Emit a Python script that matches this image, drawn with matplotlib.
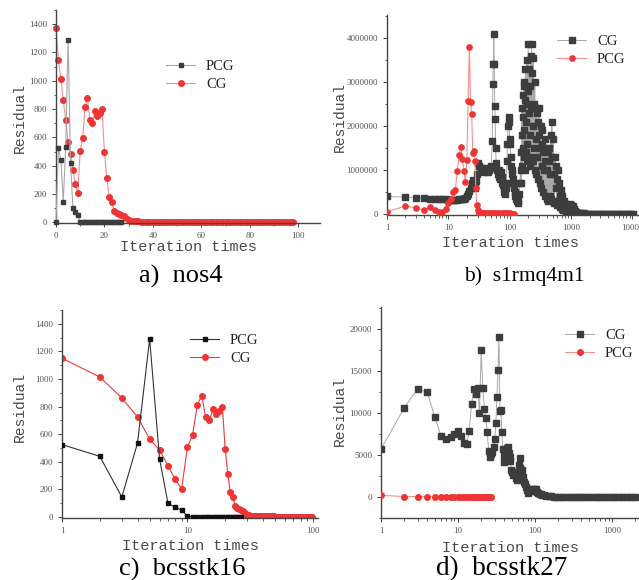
import matplotlib.pyplot as plt
import numpy as np
from matplotlib.ticker import MultipleLocator, LogLocator, NullFormatter

# ---- data ----
# nos4 / bcsstk16 : residual per iteration (index = iteration)
cg_nos4 = [1375, 1150, 1015, 862, 725, 565, 485, 372, 272, 205,
           505, 595, 815, 878, 722, 700, 785, 750, 770, 800,
           495, 310, 180, 142, 82, 68, 60, 52, 45, 30,
           16, 12, 9, 7, 6, 5, 5, 5, 4, 4,
           4, 4, 4, 4, 4, 4, 4, 4, 4, 4,
           3, 3, 3, 3, 3, 3, 3, 3, 3, 3,
           3, 3, 3, 3, 3, 3, 3, 3, 3, 3,
           2, 2, 2, 2, 2, 2, 2, 2, 2, 2,
           2, 2, 2, 2, 2, 2, 2, 2, 2, 2,
           2, 2, 2, 2, 2, 2, 2, 2, 2]
pcg_nos4 = [0, 525, 440, 145, 535, 1290, 420, 100, 70, 50,
            5, 3, 2, 2, 1, 1, 1, 1, 1, 1,
            1, 1, 0, 0, 0, 0, 0, 0]

# s1rmq4m1 (CG: sampled iterations, dense oscillating block between 150 and 1000)
cg_s1_x = [1, 2, 3, 4, 5, 6, 7, 8, 9, 10,
           11, 12, 13, 14, 15, 16, 17, 18, 19, 20,
           21, 22, 23, 24, 25, 26, 27, 28, 29, 30,
           32, 34, 36, 38, 40, 42, 44, 46, 48, 50,
           52, 53, 54, 55, 56, 57, 58, 59, 60, 62,
           64, 66, 68, 70, 72, 74, 76, 78, 80, 82,
           84, 86, 88, 90, 92, 94, 96, 98, 100, 102,
           104, 106, 108, 110, 112, 115, 118, 121, 124, 127,
           130, 134, 138, 142, 146,
           150, 152, 154, 156, 158, 160, 162, 164, 166, 168,
           170, 172, 174, 176, 178, 180, 182, 184, 186, 188,
           190, 192, 194, 196, 198, 200, 203, 206, 209, 212,
           215, 218, 221, 224, 227, 230, 233, 236, 240, 244,
           248, 252, 256, 260, 264, 268, 272, 277, 282, 287,
           292, 297, 302, 307, 312, 318, 324, 330, 336, 342,
           348, 355, 362, 369, 376, 383, 390, 398, 406, 414,
           422, 430, 439, 448, 457, 466, 475, 485, 495, 505,
           515, 526, 537, 548, 560, 572, 584, 596, 609, 622,
           635, 648, 662, 676, 690, 705, 720, 735, 750, 766,
           782, 798, 815, 832, 850, 868, 886, 905, 924, 944,
           964, 985, 1006, 1030, 1060, 1100, 1150, 1200, 1300, 1400,
           1500, 1650, 1800, 1950, 2100, 2300, 2500, 2700, 2950, 3200,
           3500, 3800, 4150, 4500, 4900, 5350, 5800, 6300, 6850, 7450,
           8100, 8800, 9600, 10400]
cg_s1_y = [400000, 380000, 370000, 360000, 350000, 345000, 340000, 335000, 330000, 320000,
           315000, 315000, 320000, 325000, 330000, 335000, 340000, 350000, 370000, 400000,
           450000, 520000, 600000, 700000, 780000, 650000, 600000, 750000, 900000, 1150000,
           1100000, 1050000, 1000000, 950000, 1050000, 1000000, 950000, 1000000, 1050000, 1100000,
           1650000, 2950000, 3400000, 4080000, 3400000, 2450000, 2150000, 1500000, 1150000, 1000000,
           900000, 1000000, 850000, 800000, 950000, 700000, 850000, 650000, 600000, 500000,
           450000, 600000, 700000, 1200000, 1600000, 2000000, 2200000, 2100000, 1700000, 1600000,
           1300000, 1100000, 1000000, 900000, 800000, 700000, 600000, 500000, 400000, 350000,
           300000, 250000, 300000, 450000, 700000,
           1000000, 1400000, 700000, 1800000, 2400000, 1100000, 2700000, 1500000, 2200000, 2900000,
           1300000, 3000000, 1900000, 2600000, 1000000, 3300000, 2100000, 1400000, 2900000, 1200000,
           2500000, 3500000, 1600000, 2800000, 1300000, 3850000, 2300000, 1200000, 3300000, 1800000,
           2900000, 1100000, 3600000, 2400000, 3850000, 1300000, 3200000, 2000000, 3550000, 1200000,
           2500000, 1500000, 3000000, 1000000, 2400000, 1700000, 900000, 2300000, 1300000, 2100000,
           800000, 1800000, 2400000, 700000, 1500000, 2000000, 600000, 1600000, 1100000, 1900000,
           500000, 1400000, 1000000, 1700000, 400000, 1200000, 1500000, 350000, 1000000, 1400000,
           300000, 1200000, 1500000, 400000, 900000, 1800000, 350000, 2100000, 1300000, 300000,
           1700000, 900000, 250000, 1300000, 600000, 1100000, 200000, 800000, 1000000, 200000,
           700000, 400000, 150000, 550000, 300000, 120000, 400000, 200000, 100000, 300000,
           150000, 80000, 220000, 60000, 150000, 100000, 50000, 180000, 100000, 220000,
           120000, 200000, 150000, 100000, 180000, 120000, 60000, 40000, 30000, 20000,
           15000, 12000, 10000, 8000, 6000, 5000, 4500, 4000, 3500, 3000,
           2500, 2000, 1800, 1500, 1200, 1000, 900, 800, 700, 600,
           500, 400, 300, 200]
pcg_s1_x = [1, 2, 3, 4, 5, 6, 7, 8, 9, 10, 11, 12, 13, 14, 15, 16, 17, 18, 19, 20,
            21, 22, 23, 24, 25, 26, 27, 28, 29, 30, 31, 32, 34, 36, 38, 40, 43, 46, 50, 54,
            58, 63, 68, 74, 80, 87, 95, 103, 112, 116]
pcg_s1_y = [50000, 180000, 140000, 80000, 170000, 90000, 40000, 50000, 120000, 250000,
            350000, 500000, 550000, 980000, 1350000, 1520000, 1250000, 970000, 720000, 1220000,
            2570000, 3800000, 2550000, 2260000, 1380000, 1420000, 1200000, 600000, 200000, 80000,
            40000, 30000, 25000, 22000, 20000, 20000, 18000, 18000, 16000, 16000,
            15000, 15000, 14000, 14000, 13000, 13000, 12000, 12000, 11000, 11000]

# bcsstk27
cg_bk27_x = [1, 2, 3, 4, 5, 6, 7, 8, 9, 10, 11, 12, 13, 14, 15, 16, 17, 18, 19, 20,
             21, 22, 23, 24, 25, 26, 27, 28, 29, 30, 31, 32, 33, 34, 35, 36, 37, 38, 39, 40,
             41, 42, 43, 44, 45, 46, 47, 48, 49, 50, 52, 54, 56, 58, 60, 62, 63, 64, 66, 68,
             70, 72, 74, 76, 78, 80, 83, 86, 90, 94, 98, 100, 103, 106, 110, 115, 120, 125, 130, 140,
             150, 160, 175, 190, 210, 230, 260, 290, 320, 360, 400, 450, 500, 560, 630, 700, 790, 880, 990, 1100,
             1240, 1390, 1560, 1750, 1960]
cg_bk27_y = [5700, 10600, 12900, 12450, 9500, 7300, 6950, 7150, 7550, 7800,
             7300, 6400, 6350, 7900, 11050, 12800, 12200, 12950, 9950, 17450,
             12950, 10450, 9400, 7700, 5500, 4800, 5100, 5400, 5900, 6900,
             8800, 11950, 15050, 19050, 10250, 10350, 7700, 5750, 4900, 4200,
             4800, 5000, 5800, 4400, 5900, 5200, 4700, 4300, 3200, 3000,
             2600, 3000, 2300, 2000, 2600, 3800, 4600, 3500, 2800, 3200,
             2400, 1800, 1500, 1200, 800, 500, 700, 1000, 700, 900,
             800, 1000, 900, 600, 500, 400, 300, 250, 200, 150,
             100, 80, 50, 30, 20, 15, 10, 10, 8, 6,
             5, 5, 4, 4, 3, 3, 2, 2, 2, 1,
             1, 1, 1, 0, 0]
pcg_bk27 = [200, 50, 50, 50, 50, 50, 50, 50, 50, 50,
            50, 50, 50, 50, 50, 50, 50, 50, 50, 50,
            50, 50, 50, 50, 50, 50, 50]

dark = '#3d3d3d'
grey_line = '#a8a8a8'
red = '#ee3434'
pink_line = '#f39090'
tick_col = '#555555'


def style_axes(ax):
    ax.spines['top'].set_visible(False)
    ax.spines['right'].set_visible(False)
    for s in ['left', 'bottom']:
        ax.spines[s].set_color('#444444')
        ax.spines[s].set_linewidth(1.0)
    ax.tick_params(which='major', direction='out', length=3, width=0.7,
                   colors='#444444', labelsize=6.5, labelcolor=tick_col)
    ax.tick_params(which='minor', direction='out', length=1.8, width=0.6, colors='#444444')
    for lab in ax.get_xticklabels() + ax.get_yticklabels():
        lab.set_family('Liberation Serif')


def add_legend(ax, x, y):
    # legend placed by pixel position of its first handle
    ax.legend(loc='upper left', bbox_to_anchor=(x / W, 1 - y / H), bbox_transform=fig.transFigure,
              frameon=False, handlelength=2.0, handletextpad=0.75, labelspacing=0.3,
              borderpad=0, borderaxespad=0, prop={'family': 'Liberation Serif', 'size': 10.5},
              labelcolor='#222222')


def add_labels(xl_x, xl_y, yl_x, yl_y, cap_x, cap_y, caption, cap_size):
    fig.text(xl_x / W, 1 - xl_y / H, 'Iteration times', ha='center', va='center',
             family='Liberation Mono', fontsize=11, color='#4a4a4a')
    fig.text(yl_x / W, 1 - yl_y / H, 'Residual', ha='center', va='center', rotation=90,
             family='Liberation Mono', fontsize=10.5, color='#4a4a4a')
    fig.text(cap_x / W, 1 - cap_y / H, caption, ha='center', va='center',
             family='Liberation Serif', fontsize=cap_size, color='black')


W, H = 639, 580
fig = plt.figure(figsize=(W / 100, H / 100), dpi=100)


def px_axes(left, top, right, bottom):
    return fig.add_axes([left / W, 1 - bottom / H, (right - left) / W, (bottom - top) / H])


# a) nos4
ax = px_axes(56, 10, 320, 223)
it = np.arange(len(cg_nos4))
it_p = np.arange(len(pcg_nos4))
ax.plot(it_p, pcg_nos4, '-s', color=grey_line, lw=0.8, ms=3.2,
        mfc=dark, mec=dark, label='PCG', clip_on=False, zorder=3)
ax.plot(it, cg_nos4, '-o', color=pink_line, lw=0.8, ms=4,
        mfc=red, mec=red, label='CG', clip_on=False, zorder=2)
ax.set_xlim(0, 109)
ax.set_ylim(-5, 1500)
ax.set_xticks([0, 20, 40, 60, 80, 100])
ax.set_yticks([0, 200, 400, 600, 800, 1000, 1200, 1400])
ax.xaxis.set_minor_locator(MultipleLocator(10))
ax.yaxis.set_minor_locator(MultipleLocator(100))
style_axes(ax)
add_legend(ax, 166, 60)
add_labels(188, 247, 20, 118, 181, 276, 'a)  nos4', 19)

# b) s1rmq4m1
ax = px_axes(387, 15, 639, 215)
ax.plot(cg_s1_x, cg_s1_y, '-s', color=grey_line, lw=0.7, ms=3.8,
        mfc=dark, mec=dark, label='CG', zorder=2)
ax.plot(pcg_s1_x, pcg_s1_y, '-o', color=pink_line, lw=0.8, ms=3.8,
        mfc=red, mec=red, label='PCG', zorder=3)
ax.set_xscale('log')
ax.set_xlim(1, 12800)
ax.set_ylim(-23000, 4520000)
ax.set_xticks([1, 10, 100, 1000, 10000])
ax.set_xticklabels(['1', '10', '100', '1000', '10000'])
ax.xaxis.set_minor_locator(LogLocator(base=10, subs=np.arange(2, 10)))
ax.xaxis.set_minor_formatter(NullFormatter())
ax.set_yticks([0, 1000000, 2000000, 3000000, 4000000])
ax.set_yticklabels(['0', '1000000', '2000000', '3000000', '4000000'])
ax.yaxis.set_minor_locator(MultipleLocator(500000))
style_axes(ax)
add_legend(ax, 557, 35)
add_labels(510, 243, 340, 117, 524, 276, 'b)  s1rmq4m1', 15.5)

# c) bcsstk16 (same runs as nos4, log x, iteration 1 onwards)
ax = px_axes(62, 310, 318, 518)
ax.plot(it_p[1:], pcg_nos4[1:], '-s', color='#333333', lw=0.8, ms=3.2,
        mfc='#111111', mec='#111111', label='PCG', zorder=3)
ax.plot(it[1:], cg_nos4[1:], '-o', color='#e83a3a', lw=0.8, ms=4,
        mfc=red, mec=red, label='CG', zorder=2)
ax.set_xscale('log')
ax.set_xlim(1, 110)
ax.set_ylim(-7, 1500)
ax.set_xticks([1, 10, 100])
ax.set_xticklabels(['1', '10', '100'])
ax.xaxis.set_minor_locator(LogLocator(base=10, subs=np.arange(2, 10)))
ax.xaxis.set_minor_formatter(NullFormatter())
ax.set_yticks([0, 200, 400, 600, 800, 1000, 1200, 1400])
ax.yaxis.set_minor_locator(MultipleLocator(100))
style_axes(ax)
add_legend(ax, 190, 334)
add_labels(190, 546, 20, 407, 182, 569, 'c)  bcsstk16', 19)

# d) bcsstk27
ax = px_axes(381, 307, 639, 518)
ax.plot(cg_bk27_x, cg_bk27_y, '-s', color=grey_line, lw=0.7, ms=3.8,
        mfc=dark, mec=dark, label='CG', zorder=2)
ax.plot(np.arange(1, len(pcg_bk27) + 1), pcg_bk27, '-o', color=pink_line, lw=0.8, ms=4,
        mfc=red, mec=red, label='PCG', zorder=3)
ax.set_xscale('log')
ax.set_xlim(1, 2240)
ax.set_ylim(-2500, 22600)
ax.set_xticks([1, 10, 100, 1000])
ax.set_xticklabels(['1', '10', '100', '1000'])
ax.xaxis.set_minor_locator(LogLocator(base=10, subs=np.arange(2, 10)))
ax.xaxis.set_minor_formatter(NullFormatter())
ax.set_yticks([0, 5000, 10000, 15000, 20000])
ax.yaxis.set_minor_locator(MultipleLocator(2500))
style_axes(ax)
add_legend(ax, 565, 329)
add_labels(510, 548, 340, 411, 502, 569, 'd)  bcsstk27', 19.5)

fig.savefig('out.png', dpi=100)
